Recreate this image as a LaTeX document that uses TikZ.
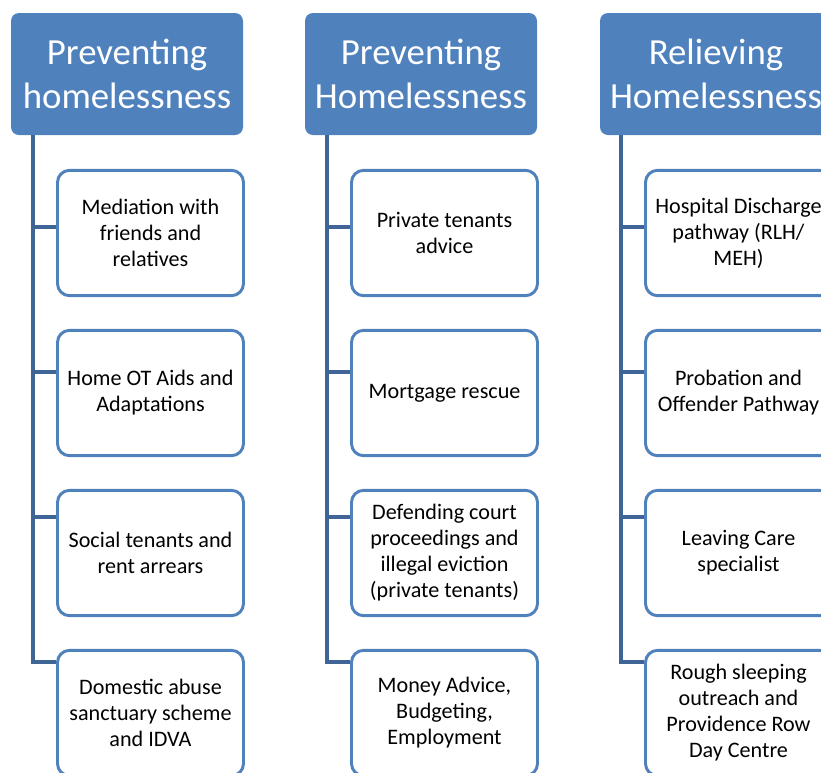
\documentclass[tikz,border=0pt]{standalone}
\usepackage{fontspec}
\setmainfont{Carlito}
\definecolor{headblue}{RGB}{79,129,189}
\definecolor{trunkblue}{RGB}{62,101,150}

\begin{document}
\begin{tikzpicture}[x=0.75pt,y=-0.75pt,
    head/.style={fill=headblue, rounded corners=6pt, text=white, minimum width=174pt, minimum height=91.5pt, inner sep=0pt, align=center, font=\fontsize{27.6}{32.5}\selectfont},
    item/.style={draw=headblue, line width=2.2pt, fill=white, rounded corners=9pt, minimum width=139.5pt, minimum height=94pt, inner sep=0pt, align=center, font=\fontsize{16.6}{19.5}\selectfont},
    link/.style={draw=trunkblue, line width=2.5pt}]
    \useasboundingbox (0,0) rectangle (821,772);
    \clip (0,0) rectangle (821,772);

    % first column
    \node[head] (h1) at (127,74) {Preventing\\homelessness};
    \node[item] (a1) at (150.5,233) {Mediation with\\friends and\\relatives};
    \node[item] (a2) at (150.5,393) {Home OT Aids and\\Adaptations};
    \node[item] (a3) at (150.5,553) {Social tenants and\\rent arrears};
    \node[item] (a4) at (150.5,713) {Domestic abuse\\sanctuary scheme\\and IDVA};
    \coordinate (ta1) at (33,227);
    \coordinate (ta2) at (33,372);
    \coordinate (ta3) at (33,517);
    \coordinate (ta4) at (33,662);
    \draw[link] (h1.south -| ta4) |- (a4.west |- ta4);
    \draw[link] (ta1) -- (a1.west |- ta1);
    \draw[link] (ta2) -- (a2.west |- ta2);
    \draw[link] (ta3) -- (a3.west |- ta3);

    % second column
    \node[head] (h2) at (421,74) {Preventing\\Homelessness};
    \node[item] (b1) at (444.5,233) {Private tenants\\advice};
    \node[item] (b2) at (444.5,393) {Mortgage rescue};
    \node[item] (b3) at (444.5,553) {Defending court\\proceedings and\\illegal eviction\\(private tenants)};
    \node[item] (b4) at (444.5,713) {Money Advice,\\Budgeting,\\Employment};
    \coordinate (tb1) at (327,227);
    \coordinate (tb2) at (327,372);
    \coordinate (tb3) at (327,517);
    \coordinate (tb4) at (327,662);
    \draw[link] (h2.south -| tb4) |- (b4.west |- tb4);
    \draw[link] (tb1) -- (b1.west |- tb1);
    \draw[link] (tb2) -- (b2.west |- tb2);
    \draw[link] (tb3) -- (b3.west |- tb3);

    % third column
    \node[head] (h3) at (716,74) {Relieving\\Homelessness};
    \node[item] (c1) at (738.5,233) {Hospital Discharge\\pathway (RLH/\\MEH)};
    \node[item] (c2) at (738.5,393) {Probation and\\Offender Pathway};
    \node[item] (c3) at (738.5,553) {Leaving Care\\specialist};
    \node[item] (c4) at (738.5,713) {Rough sleeping\\outreach and\\Providence Row\\Day Centre};
    \coordinate (tc1) at (621,227);
    \coordinate (tc2) at (621,372);
    \coordinate (tc3) at (621,517);
    \coordinate (tc4) at (621,662);
    \draw[link] (h3.south -| tc4) |- (c4.west |- tc4);
    \draw[link] (tc1) -- (c1.west |- tc1);
    \draw[link] (tc2) -- (c2.west |- tc2);
    \draw[link] (tc3) -- (c3.west |- tc3);
\end{tikzpicture}
\end{document}
